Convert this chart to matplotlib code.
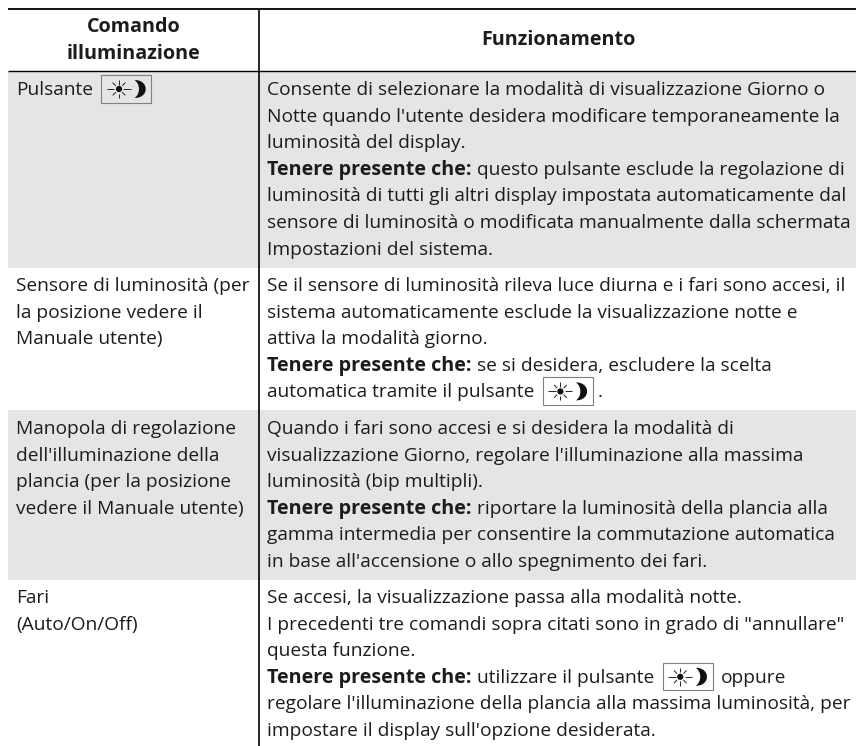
import matplotlib
matplotlib.use("Agg")
import matplotlib.pyplot as plt
from matplotlib.patches import Rectangle, PathPatch
from matplotlib.path import Path
import numpy as np

FONT = "Open Sans"
SIZE = 13.8
BOLD_SIZE = 14.2
COLOR = "#1c1c1c"
PITCH = 26.6

headers = [["Comando", "illuminazione"], ["Funzionamento"]]
ICON = "@icon"
BOLD = "Tenere presente che:"
left_cells = [
    [f"Pulsante {ICON}"],
    ["Sensore di luminosità (per", "la posizione vedere il", "Manuale utente)"],
    ["Manopola di regolazione", "dell'illuminazione della", "plancia (per la posizione", "vedere il Manuale utente)"],
    ["Fari", "(Auto/On/Off)"],
]
right_cells = [
    ["Consente di selezionare la modalità di visualizzazione Giorno o",
     "Notte quando l'utente desidera modificare temporaneamente la",
     "luminosità del display.",
     BOLD + " questo pulsante esclude la regolazione di",
     "luminosità di tutti gli altri display impostata automaticamente dal",
     "sensore di luminosità o modificata manualmente dalla schermata",
     "Impostazioni del sistema."],
    ["Se il sensore di luminosità rileva luce diurna e i fari sono accesi, il",
     "sistema automaticamente esclude la visualizzazione notte e",
     "attiva la modalità giorno.",
     BOLD + " se si desidera, escludere la scelta",
     f"automatica tramite il pulsante {ICON} ."],
    ["Quando i fari sono accesi e si desidera la modalità di",
     "visualizzazione Giorno, regolare l'illuminazione alla massima",
     "luminosità (bip multipli).",
     BOLD + " riportare la luminosità della plancia alla",
     "gamma intermedia per consentire la commutazione automatica",
     "in base all'accensione o allo spegnimento dei fari."],
    ["Se accesi, la visualizzazione passa alla modalità notte.",
     "I precedenti tre comandi sopra citati sono in grado di \"annullare\"",
     "questa funzione.",
     f"{BOLD} utilizzare il pulsante {ICON} oppure",
     "regolare l'illuminazione della plancia alla massima luminosità, per",
     "impostare il display sull'opzione desiderata."],
]
row_edges = [71, 268, 410, 580, 746]
first_baselines = [95, 291, 434, 603]
shaded = [True, False, True, False]

fig = plt.figure(figsize=(8.56, 7.46), dpi=100)
ax = fig.add_axes([0, 0, 1, 1])
ax.set_xlim(0, 856)
ax.set_ylim(746, 0)
ax.axis("off")
fig.canvas.draw()
rend = fig.canvas.get_renderer()

X0, XV, X1 = 8, 259, 856
LX, RX = 16, 267


def put(x, y, s, bold=False, ha="left"):
    t = ax.text(x, y, s, fontfamily=FONT, fontsize=BOLD_SIZE if bold else SIZE, color=COLOR,
                fontweight="bold" if bold else "normal", ha=ha, va="baseline")
    return t.get_window_extent(rend).width


def icon(x, base):
    top = base - 20
    w, h = 50, 27.5
    ax.add_patch(Rectangle((x, top), w, h, fc="none", ec="#808080", lw=0.8, zorder=3))
    cx, cy = x + 17.5, top + 14
    ax.add_patch(plt.Circle((cx, cy), 2.4, color="#111111", zorder=4))
    for i in range(8):
        a = i * np.pi / 4
        r0, r1 = 4.5, (12 if i % 4 == 0 else 9)
        ax.plot([cx + r0 * np.cos(a), cx + r1 * np.cos(a)],
                [cy + r0 * np.sin(a), cy + r1 * np.sin(a)],
                color="#222222", lw=0.7, solid_capstyle="butt", zorder=4)
    mx, my = x + 33, top + 14
    verts = [(mx, my - 9), (mx + 15, my - 9), (mx + 15, my + 9), (mx, my + 9),
             (mx + 6, my + 5), (mx + 6, my - 5), (mx, my - 9), (mx, my - 9)]
    codes = [Path.MOVETO, Path.CURVE4, Path.CURVE4, Path.CURVE4,
             Path.CURVE4, Path.CURVE4, Path.CURVE4, Path.CLOSEPOLY]
    ax.add_patch(PathPatch(Path(verts, codes), fc="#111111", ec="none", zorder=4))


SPACE = 5.5


def draw_line(x, y, line):
    if line.startswith(BOLD):
        w = put(x, y, BOLD, bold=True)
        x += w + SPACE
        line = line[len(BOLD):].strip()
    if ICON in line:
        before, after = line.split(ICON)
        before = before.rstrip()
        if before:
            x += put(x, y, before) + SPACE + 3
        icon(x, y)
        x += 50 + SPACE + 3
        after = after.strip()
        if after == ".":
            x -= 4
        if after:
            put(x, y, after)
    else:
        put(x, y, line)


for i, shade in enumerate(shaded):
    if shade:
        ax.add_patch(Rectangle((X0, row_edges[i]), X1 - X0, row_edges[i + 1] - row_edges[i],
                               fc="#e5e5e5", ec="none", zorder=0))
    for j, line in enumerate(left_cells[i]):
        draw_line(LX, first_baselines[i] + j * PITCH, line)
    for j, line in enumerate(right_cells[i]):
        draw_line(RX, first_baselines[i] + j * PITCH, line)

for j, line in enumerate(headers[0]):
    put((X0 + XV) / 2, 32 + j * 27, line, bold=True, ha="center")
put((XV + X1) / 2 + 1, 45, headers[1][0], bold=True, ha="center")

ax.plot([X0, X1], [9.2, 9.2], color="#000000", lw=1.3, solid_capstyle="butt", zorder=5)
ax.plot([X0, X1], [71, 71], color="#000000", lw=1.0, solid_capstyle="butt", zorder=5)
ax.plot([XV, XV], [9, 746], color="#000000", lw=1.2, solid_capstyle="butt", zorder=5)

fig.savefig("out.png", dpi=100)
